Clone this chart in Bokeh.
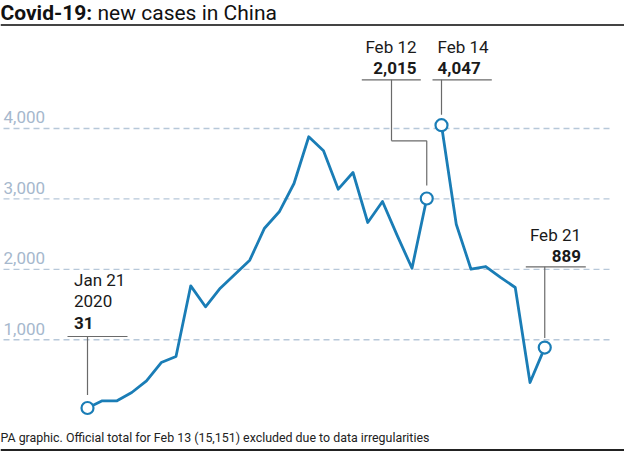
from bokeh.plotting import figure
from bokeh.models import Range1d
from bokeh.core.properties import value
from bokeh.embed import file_html
from bokeh.resources import INLINE
import pandas as pd

# ---- data ----
dates_early = ["2020-01-21", "2020-01-22", "2020-01-23", "2020-01-24", "2020-01-25",
               "2020-01-26", "2020-01-27", "2020-01-28", "2020-01-29", "2020-01-30",
               "2020-01-31", "2020-02-01", "2020-02-02", "2020-02-03", "2020-02-04",
               "2020-02-05", "2020-02-06", "2020-02-07", "2020-02-08", "2020-02-09",
               "2020-02-10", "2020-02-11", "2020-02-12", "2020-02-13"]
cases_early = [31, 133, 133, 251, 417, 677, 762, 1766, 1468, 1732, 1931, 2130,
               2584, 2817, 3219, 3882, 3683, 3138, 3375, 2665, 2963, 2478, 2016, 3006]
dates_late = ["2020-02-14", "2020-02-15", "2020-02-16", "2020-02-17", "2020-02-18",
              "2020-02-19", "2020-02-20", "2020-02-21"]
cases_late = [4047, 2641, 2002, 2040, 1886, 1742, 393, 889]

y_ticks = [1000, 2000, 3000, 4000]
y_tick_labels = ["1,000", "2,000", "3,000", "4,000"]

ann_dates = ["Jan 21", "Feb 12", "Feb 14", "Feb 21"]
ann_values = ["31", "2,015", "4,047", "889"]

title_bold = "Covid-19:"
title_rest = "new cases in China"
footer = "PA graphic. Official total for Feb 13 (15,151) excluded due to data irregularities"

start = pd.Timestamp(dates_early[0])
def day(d):
    return (pd.Timestamp(d) - start).days

xe = [day(d) for d in dates_early]
xl = [day(d) for d in dates_late]

# ---- layout helpers (page pixel -> data) ----
X0_PAGE, X_PER_DAY = 95.0, 14.75
Y0_PAGE, PX_PER_CASE = 417.7, 0.07043
def dx(px):
    return (px - X0_PAGE) / X_PER_DAY
def dy(py):
    return (Y0_PAGE - py) / PX_PER_CASE
def tb(py, size):
    # baseline correction for text glyph layout
    return dy(py - 0.3 * size)

W, H = 624, 451
p = figure(width=W, height=H, output_backend="svg", toolbar_location=None,
           x_range=Range1d(dx(8), dx(8 + W)), y_range=Range1d(dy(8 + H), dy(8)),
           x_axis_location=None, y_axis_location=None, min_border=0)
p.grid.visible = False
p.outline_line_color = None
p.background_fill_color = "white"
p.border_fill_color = "white"

FONT = value("Roboto")
BLUE = "#1a7db6"
DARK = "#1a1a1a"
LEAD = "#6a6a6a"

# gridlines
p.segment(x0=[dx(11)] * len(y_ticks), x1=[dx(619)] * len(y_ticks), y0=y_ticks, y1=y_ticks,
          line_color="#b7c8d9", line_width=1.3, line_dash="6 4")
p.text(x=[dx(11)] * len(y_ticks), y=[t + (6 + 0.3 * 17) / PX_PER_CASE for t in y_ticks],
       text=y_tick_labels, text_font=FONT, text_font_size="17px", text_color="#a6b8cd",
       text_align="left", text_baseline="alphabetic")

# title and rules
TS = 21
p.text(x=[dx(8)], y=[tb(27, TS)], text=[title_bold], text_font=FONT, text_font_style="bold",
       text_font_size=f"{TS}px", text_color="#111111", text_baseline="alphabetic")
p.text(x=[dx(105)], y=[tb(27, TS)], text=[title_rest], text_font=FONT,
       text_font_size=f"{TS}px", text_color="#111111", text_baseline="alphabetic")
p.segment(x0=[dx(8)], x1=[dx(632)], y0=[dy(32.5)], y1=[dy(32.5)], line_color="#444444", line_width=2)
p.segment(x0=[dx(8)], x1=[dx(632)], y0=[dy(457.5)], y1=[dy(457.5)], line_color="#222222", line_width=2)
p.text(x=[dx(8)], y=[tb(448.3, 12.4)], text=[footer], text_font=FONT, text_font_size="12.4px",
       text_color="#222222", text_baseline="alphabetic")

# leader lines
lead_x0 = [dx(75), xe[0], dx(369.3), dx(399), dx(399), xe[-1], dx(440), xl[0], dx(533.3), xl[-1]]
lead_x1 = [dx(135), xe[0], dx(428.3), dx(399), xe[-1], xe[-1], dx(499.3), xl[0], dx(593.3), xl[-1]]
lead_y0 = [dy(344), dy(344), dy(87.3), dy(87.3), dy(148.3), dy(148.3), dy(87.3), dy(87.3), dy(274.3), dy(274.3)]
lead_y1 = [dy(344), cases_early[0] + 13 / PX_PER_CASE, dy(87.3), dy(148.3), dy(148.3),
           cases_early[-1] + 13 / PX_PER_CASE, dy(87.3), cases_late[0] + 10.5 / PX_PER_CASE,
           dy(274.3), cases_late[-1] + 9.5 / PX_PER_CASE]
p.segment(x0=lead_x0, x1=lead_x1, y0=lead_y0, y1=lead_y1, line_color=LEAD, line_width=1.2)

# annotation texts
S = 17
p.text(x=[dx(81.5)] * 2, y=[tb(292.7, S), tb(314, S)], text=[ann_dates[0], "2020"],
       text_font=FONT, text_font_size="17px", text_color=DARK, text_baseline="alphabetic")
p.text(x=[dx(81.5)], y=[tb(335.7, S)], text=[ann_values[0]], text_font=FONT, text_font_style="bold",
       text_font_size="17px", text_color=DARK, text_baseline="alphabetic")
p.text(x=[dx(424), dx(445), dx(588.5)], y=[tb(59.3, S), tb(59.3, S), tb(247.3, S)],
       text=[ann_dates[1], ann_dates[2], ann_dates[3]], text_align=["right", "left", "right"],
       text_font=FONT, text_font_size="17px", text_color=DARK, text_baseline="alphabetic")
p.text(x=[dx(424), dx(445), dx(588.5)], y=[tb(80.7, S), tb(80.7, S), tb(268.3, S)],
       text=[ann_values[1], ann_values[2], ann_values[3]], text_align=["right", "left", "right"],
       text_font=FONT, text_font_style="bold", text_font_size="17px", text_color=DARK,
       text_baseline="alphabetic")

# series
p.line(xe, cases_early, line_color=BLUE, line_width=2.8, line_join="round")
p.line(xl, cases_late, line_color=BLUE, line_width=2.8, line_join="round")
p.scatter([xe[0], xe[-1], xl[0], xl[-1]],
          [cases_early[0], cases_early[-1], cases_late[0], cases_late[-1]],
          size=12, fill_color="white", line_color=BLUE, line_width=2.2)

open("out.html", "w").write(file_html(p, INLINE))
